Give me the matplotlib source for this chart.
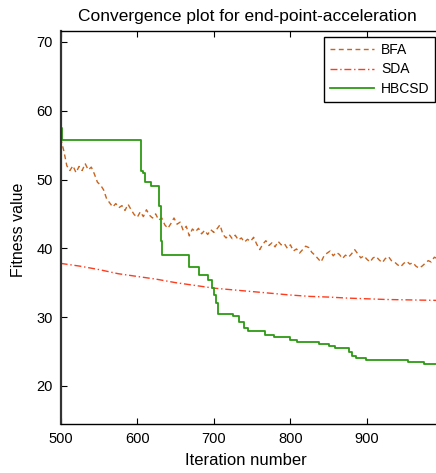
import numpy as np
import matplotlib
matplotlib.use("Agg")
import matplotlib.pyplot as plt

plt.rcParams['font.family'] = ['Liberation Sans', 'DejaVu Sans']

# BFA: noisy convergence curve, one value every 4 iterations
bfa_vals = [56.0, 54.2, 52.0, 51.3, 52.0, 51.0, 51.9, 51.3, 52.3, 51.4,
            51.8, 50.8, 49.6, 49.2, 48.5, 47.2, 46.6, 46.0, 46.5, 45.9,
            46.2, 45.5, 46.4, 45.6, 44.9, 44.5, 45.3, 44.6, 45.6, 44.8,
            44.4, 45.0, 44.1, 44.4, 43.4, 42.9, 43.6, 44.4, 43.5, 43.8,
            42.6, 43.2, 41.8, 42.8, 42.4, 42.9, 42.1, 42.6, 42.0, 42.7,
            42.3, 42.8, 43.4, 42.0, 41.5, 42.0, 41.4, 41.9, 41.2, 41.5,
            40.9, 41.3, 41.0, 41.6, 40.6, 39.8, 40.6, 41.1, 40.4, 40.8,
            40.2, 41.0, 40.5, 40.7, 40.0, 40.5, 39.6, 39.9, 39.3, 39.8,
            40.3, 40.1, 39.4, 39.0, 38.5, 38.0, 38.9, 39.3, 39.6, 38.9,
            39.4, 39.1, 38.5, 39.0, 38.7, 39.2, 39.8, 39.2, 38.6, 38.9,
            38.4, 38.0, 38.6, 38.8, 38.3, 37.9, 38.5, 38.8, 38.2, 38.0,
            37.6, 37.3, 37.8, 38.1, 37.7, 37.9, 37.4, 37.1, 37.4, 37.8,
            38.2, 38.0, 38.7, 38.5, 38.8, 38.6]
bfa_iter = np.arange(500, 500 + 4 * len(bfa_vals), 4)

# SDA: smooth decay
sda_iter = [500, 525, 550, 575, 600, 625, 650, 675, 700, 725, 750,
            775, 800, 825, 850, 875, 900, 925, 950, 975, 1000]
sda_vals = [37.8, 37.4, 36.9, 36.3, 35.9, 35.5, 35.0, 34.6, 34.2, 33.95, 33.7,
            33.45, 33.2, 33.0, 32.9, 32.75, 32.65, 32.55, 32.5, 32.45, 32.4]

# HBCSD: step curve
hb_iter = [500, 502, 605, 607, 610, 618, 629, 631, 632, 668, 680, 692, 697,
           700, 703, 705, 725, 733, 740, 745, 767, 778, 800, 808, 838, 850,
           858, 876, 880, 886, 899, 953, 975, 1000]
hb_vals = [57.5, 55.8, 51.2, 51.0, 49.7, 49.0, 46.1, 41.0, 39.0, 37.3, 36.1,
           35.4, 34.2, 33.2, 32.0, 30.5, 30.1, 29.3, 28.4, 28.0, 27.4, 27.1,
           26.7, 26.35, 26.05, 25.8, 25.5, 24.85, 24.4, 24.0, 23.8, 23.4,
           23.2, 23.1]

fig = plt.figure(figsize=(4.36, 4.73), dpi=100)
ax = fig.add_axes([0.1392, 0.103, 0.878, 0.8315])

ax.plot(bfa_iter, bfa_vals, color='#c8641e', linestyle=(0, (3.5, 2.5)), linewidth=1.0, label='BFA')
ax.plot(sda_iter, sda_vals, color='#ff3c1e', linestyle=(0, (5, 2, 1, 2)), linewidth=1.0, label='SDA')
ax.plot(hb_iter, hb_vals, color='#2e9a14', linewidth=1.3, drawstyle='steps-post', label='HBCSD')

ax.set_xlim(500, 1000)
ax.set_ylim(14.4, 71.6)
ax.set_xticks([500, 600, 700, 800, 900])
ax.set_yticks([20, 30, 40, 50, 60, 70])
ax.tick_params(direction='in', length=4, labelsize=10.5, pad=5.5, top=True, right=True, width=0.8)
for s in ax.spines.values():
    s.set_linewidth(1.0)
ax.spines['left'].set_linewidth(1.6)
ax.spines['left'].set_color('#333333')

ax.set_title('Convergence plot for end-point-acceleration', fontsize=12.5, x=0.487, pad=7)
ax.set_xlabel('Iteration number', fontsize=12)
ax.set_ylabel('Fitness value', fontsize=11.5)
ax.xaxis.set_label_coords(0.485, -0.072)
ax.yaxis.set_label_coords(-0.09, 0.495)

leg = ax.legend(loc='upper right', bbox_to_anchor=(435 / 436, 1 - 37 / 473),
                bbox_transform=fig.transFigure, borderaxespad=0, fancybox=False,
                edgecolor='black', framealpha=1, fontsize=10, handlelength=3.2,
                handletextpad=0.5, labelspacing=0.42, borderpad=0.4)
leg.get_frame().set_linewidth(1.0)

fig.savefig('out.png', dpi=100)
